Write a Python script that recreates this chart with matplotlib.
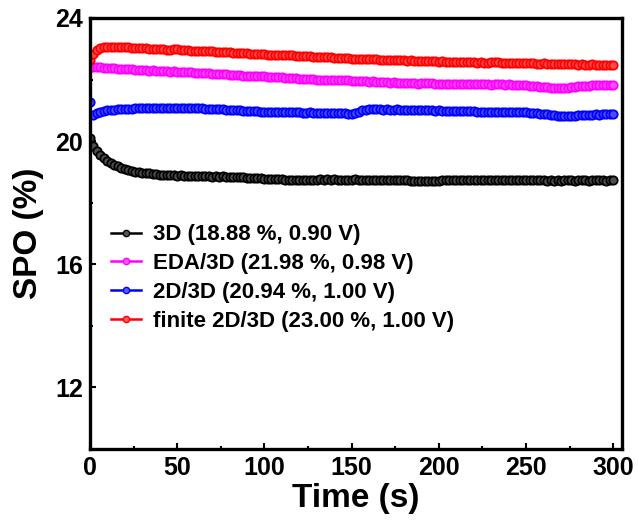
import numpy as np
import matplotlib
matplotlib.use("Agg")
import matplotlib.pyplot as plt
from matplotlib.lines import Line2D
from matplotlib.ticker import MultipleLocator
from matplotlib.colors import to_rgb

plt.rcParams['font.family'] = ['Liberation Sans', 'DejaVu Sans']
plt.rcParams['font.weight'] = 'bold'

# Steady-state power output, sampled every 2 s
time_s = np.arange(0, 301, 2)

spo_3d = [
    20.09, 19.85, 19.68, 19.55, 19.45, 19.36, 19.29, 19.23, 19.18, 19.14,
    19.10, 19.07, 19.04, 19.01, 18.99, 18.97, 18.96, 18.95, 18.93, 18.92,
    18.91, 18.90, 18.91, 18.90, 18.89, 18.88, 18.89, 18.88, 18.87, 18.88,
    18.87, 18.86, 18.87, 18.86, 18.85, 18.84, 18.85, 18.84, 18.85, 18.84,
    18.83, 18.84, 18.83, 18.82, 18.82, 18.81, 18.81, 18.80, 18.80, 18.79,
    18.78, 18.78, 18.77, 18.77, 18.76, 18.76, 18.75, 18.75, 18.74, 18.75,
    18.74, 18.75, 18.74, 18.75, 18.74, 18.75, 18.76, 18.75, 18.76, 18.75,
    18.76, 18.75, 18.74, 18.75, 18.74, 18.75, 18.76, 18.75, 18.74, 18.75,
    18.74, 18.75, 18.74, 18.73, 18.74, 18.73, 18.74, 18.73, 18.74, 18.73,
    18.72, 18.72, 18.71, 18.70, 18.70, 18.69, 18.70, 18.69, 18.70, 18.71,
    18.71, 18.72, 18.73, 18.73, 18.74, 18.73, 18.74, 18.75, 18.74, 18.75,
    18.74, 18.73, 18.74, 18.75, 18.74, 18.75, 18.74, 18.73, 18.74, 18.75,
    18.74, 18.75, 18.74, 18.73, 18.74, 18.73, 18.74, 18.73, 18.72, 18.73,
    18.72, 18.71, 18.72, 18.71, 18.72, 18.71, 18.72, 18.73, 18.72, 18.71,
    18.72, 18.73, 18.72, 18.71, 18.72, 18.73, 18.72, 18.72, 18.71, 18.72,
    18.72,
]

spo_eda = [
    22.42, 22.41, 22.40, 22.39, 22.38, 22.37, 22.37, 22.36, 22.35, 22.35,
    22.34, 22.33, 22.33, 22.32, 22.31, 22.30, 22.30, 22.29, 22.30, 22.29,
    22.28, 22.27, 22.27, 22.26, 22.27, 22.25, 22.26, 22.24, 22.24, 22.23,
    22.22, 22.22, 22.21, 22.21, 22.20, 22.19, 22.19, 22.18, 22.17, 22.17,
    22.16, 22.15, 22.15, 22.14, 22.13, 22.13, 22.12, 22.12, 22.11, 22.10,
    22.10, 22.09, 22.09, 22.08, 22.08, 22.07, 22.06, 22.05, 22.05, 22.04,
    22.03, 22.03, 22.02, 22.02, 22.01, 22.00, 22.00, 21.99, 22.00, 21.99,
    21.99, 21.98, 21.98, 21.97, 21.97, 21.96, 21.95, 21.95, 21.94, 21.94,
    21.93, 21.94, 21.93, 21.92, 21.91, 21.91, 21.90, 21.91, 21.90, 21.90,
    21.89, 21.89, 21.88, 21.88, 21.87, 21.88, 21.89, 21.88, 21.88, 21.87,
    21.87, 21.86, 21.87, 21.86, 21.86, 21.85, 21.86, 21.85, 21.84, 21.85,
    21.84, 21.85, 21.84, 21.85, 21.84, 21.83, 21.84, 21.85, 21.84, 21.83,
    21.84, 21.83, 21.83, 21.82, 21.82, 21.81, 21.80, 21.79, 21.78, 21.77,
    21.76, 21.75, 21.74, 21.73, 21.72, 21.72, 21.73, 21.74, 21.75, 21.77,
    21.78, 21.79, 21.80, 21.80, 21.81, 21.81, 21.82, 21.82, 21.81, 21.82,
    21.82,
]

spo_2d3d = [
    21.28, 20.86, 20.92, 20.96, 20.98, 21.00, 21.01, 21.02, 21.03, 21.04,
    21.04, 21.05, 21.05, 21.06, 21.06, 21.07, 21.07, 21.08, 21.07, 21.08,
    21.08, 21.07, 21.08, 21.09, 21.08, 21.08, 21.07, 21.08, 21.07, 21.07,
    21.06, 21.06, 21.06, 21.05, 21.05, 21.04, 21.04, 21.03, 21.03, 21.02,
    21.02, 21.01, 21.00, 21.00, 20.99, 20.99, 20.98, 20.97, 20.97, 20.96,
    20.96, 20.95, 20.95, 20.95, 20.94, 20.94, 20.93, 20.94, 20.93, 20.93,
    20.93, 20.92, 20.92, 20.93, 20.92, 20.91, 20.91, 20.91, 20.90, 20.90,
    20.90, 20.91, 20.90, 20.90, 20.89, 20.89, 20.91, 20.96, 21.00, 21.02,
    21.03, 21.04, 21.03, 21.03, 21.02, 21.03, 21.02, 21.02, 21.03, 21.02,
    21.02, 21.01, 21.02, 21.01, 21.01, 21.00, 21.01, 21.00, 21.00, 20.99,
    21.00, 20.99, 20.99, 20.98, 20.99, 20.98, 20.98, 20.97, 20.98, 20.97,
    20.97, 20.96, 20.96, 20.95, 20.95, 20.94, 20.94, 20.93, 20.94, 20.95,
    20.95, 20.94, 20.95, 20.94, 20.94, 20.93, 20.92, 20.91, 20.90, 20.89,
    20.88, 20.87, 20.85, 20.84, 20.83, 20.82, 20.81, 20.81, 20.82, 20.83,
    20.84, 20.85, 20.85, 20.86, 20.86, 20.87, 20.86, 20.87, 20.87, 20.87,
    20.87,
]

spo_finite = [
    22.63, 22.82, 22.95, 23.02, 23.05, 23.07, 23.07, 23.07, 23.06, 23.05,
    23.05, 23.04, 23.03, 23.03, 23.02, 23.01, 23.01, 23.00, 22.99, 22.99,
    22.98, 22.98, 22.97, 22.97, 22.99, 22.98, 22.96, 22.95, 22.95, 22.94,
    22.93, 22.93, 22.92, 22.92, 22.91, 22.91, 22.90, 22.89, 22.89, 22.88,
    22.88, 22.87, 22.87, 22.86, 22.85, 22.85, 22.84, 22.84, 22.83, 22.82,
    22.82, 22.81, 22.80, 22.80, 22.81, 22.80, 22.79, 22.79, 22.78, 22.77,
    22.77, 22.76, 22.76, 22.75, 22.74, 22.74, 22.73, 22.73, 22.72, 22.72,
    22.71, 22.71, 22.70, 22.70, 22.69, 22.68, 22.68, 22.67, 22.66, 22.66,
    22.65, 22.66, 22.65, 22.64, 22.63, 22.63, 22.62, 22.62, 22.63, 22.62,
    22.62, 22.61, 22.62, 22.61, 22.60, 22.60, 22.61, 22.60, 22.59, 22.59,
    22.58, 22.59, 22.58, 22.57, 22.58, 22.57, 22.57, 22.56, 22.57, 22.56,
    22.56, 22.55, 22.56, 22.55, 22.55, 22.56, 22.57, 22.56, 22.55, 22.54,
    22.54, 22.55, 22.54, 22.53, 22.53, 22.52, 22.53, 22.52, 22.51, 22.51,
    22.52, 22.51, 22.50, 22.51, 22.50, 22.50, 22.49, 22.50, 22.49, 22.49,
    22.48, 22.49, 22.48, 22.48, 22.49, 22.48, 22.47, 22.48, 22.47, 22.48,
    22.47,
]

labels = [
    "3D (18.88 %, 0.90 V)",
    "EDA/3D (21.98 %, 0.98 V)",
    "2D/3D (20.94 %, 1.00 V)",
    "finite 2D/3D (23.00 %, 1.00 V)",
]
colors = ["black", "#ff00ff", "#0000ff", "#ff0000"]
series = [spo_3d, spo_eda, spo_2d3d, spo_finite]


def tint(c, f):
    r, g, b = to_rgb(c)
    return (r + (1 - r) * f, g + (1 - g) * f, b + (1 - b) * f)


fig = plt.figure(figsize=(6.38, 5.28), dpi=100)
ax = fig.add_axes([0.141, 0.150, 0.834, 0.816])

for vals, col in zip(series, colors):
    ax.plot(time_s, vals, linestyle="none", marker="o", markersize=6.0,
            markerfacecolor=tint(col, 0.3), markeredgecolor=col,
            markeredgewidth=1.3)

ax.set_xlim(0, 305)
ax.set_ylim(10, 24)
ax.xaxis.set_major_locator(MultipleLocator(50))
ax.xaxis.set_minor_locator(MultipleLocator(25))
ax.yaxis.set_major_locator(MultipleLocator(4))
ax.yaxis.set_minor_locator(MultipleLocator(2))
ax.tick_params(which="both", direction="in", top=False, right=False,
               width=1.5)
ax.tick_params(which="major", length=4, labelsize=18, pad=5)
ax.tick_params(which="minor", length=2.5)
for lab in ax.get_xticklabels() + ax.get_yticklabels():
    lab.set_fontweight("bold")
for sp in ax.spines.values():
    sp.set_linewidth(2.4)

ax.set_xlabel("Time (s)", fontsize=24, fontweight="bold", labelpad=2)
ax.set_ylabel("SPO (%)", fontsize=24, fontweight="bold", labelpad=8)

handles = [Line2D([0], [0], color=c, linewidth=1.8, marker="o",
                  markersize=4.5, markerfacecolor=tint(c, 0.35),
                  markeredgecolor=c, markeredgewidth=1.0)
           for c in colors]
leg = ax.legend(handles, labels, loc="upper left",
                bbox_to_anchor=(0.04, 0.521), frameon=False,
                prop={"size": 16, "weight": "bold"}, handlelength=1.35,
                handletextpad=0.55, labelspacing=0.35, borderaxespad=0,
                borderpad=0)

fig.savefig("out.png", dpi=100)
